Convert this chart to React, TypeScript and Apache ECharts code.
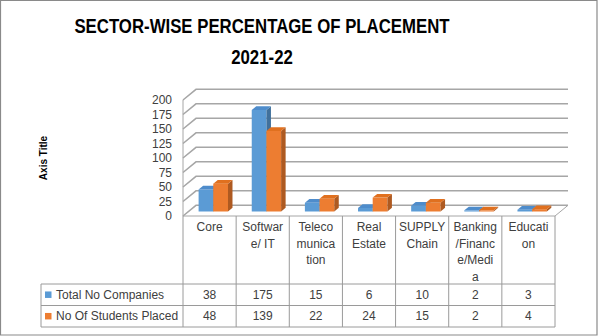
import React, { useEffect, useRef } from "react";
import * as echarts from "echarts";

// ---- data ----
const titleLines = ["SECTOR-WISE PERCENTAGE OF PLACEMENT", "2021-22"];
const categories = [
  "Core",
  "Software/ IT",
  "Telecomunication",
  "Real Estate",
  "SUPPLY Chain",
  "Banking/Finance/Media",
  "Education",
];
const categoryLabels = [
  "Core",
  "Softwar\ne/ IT",
  "Teleco\nmunica\ntion",
  "Real\nEstate",
  "SUPPLY\nChain",
  "Banking\n/Financ\ne/Medi\na",
  "Educati\non",
];
const seriesNames = ["Total No Companies", "No Of Students Placed"];
const totalCompanies = [38, 175, 15, 6, 10, 2, 3];
const studentsPlaced = [48, 139, 22, 24, 15, 2, 4];
const yTicks = [0, 25, 50, 75, 100, 125, 150, 175, 200];
const yAxisTitle = "Axis Title";

// ---- styles / layout ----
const FONT = '"Liberation Sans", Arial, sans-serif';
const TEXT = "#404040";
const GRID_LINE = "#a6a6a6";
const TABLE_LINE = "#9a9a9a";
const FRONT = ["#5B9BD5", "#ED7D31"];
const TOP = ["#4E8CCB", "#E0701F"];
const SIDE = ["#41719C", "#AE5A21"];
const GRID_LEFT = 183;
const GRID_TOP = 100;
const GRID_W = 372;
const GRID_H = 116;
const DEPTH_X = 13;
const DEPTH_Y = -10.7;
const BAR_SHIFT_X = 5.5;
const BAR_SHIFT_Y = -4.5;
const BAR_DX = 4.5;
const BAR_DY = -3.7;
const TABLE_LEFT = 41;
const HEADER_BOTTOM = 284;
const ROW_H = 21.5;
const TABLE_BOTTOM = HEADER_BOTTOM + ROW_H * 2;

export default function App() {
  const ref = useRef<HTMLDivElement>(null);

  useEffect(() => {
    if (!ref.current) return;
    const chart = echarts.init(ref.current, null, { renderer: "svg" });

    const wallSeries = {
      type: "custom",
      silent: true,
      z: 1,
      data: yTicks.map((v) => [0, v]),
      renderItem: (params: any, api: any) => {
        const cs = params.coordSys;
        const L = cs.x;
        const R = cs.x + cs.width;
        const v = api.value(1);
        const y = api.coord([0, v])[1];
        const children: any[] = [
          {
            type: "polyline",
            shape: {
              points: [
                [L, y],
                [L + DEPTH_X, y + DEPTH_Y],
                [R + DEPTH_X, y + DEPTH_Y],
              ],
            },
            style: { stroke: GRID_LINE, lineWidth: 1.5, fill: null },
          },
        ];
        if (v === 0) {
          children.push({
            type: "polyline",
            shape: {
              points: [
                [L, y],
                [R, y],
                [R + DEPTH_X, y + DEPTH_Y],
              ],
            },
            style: { stroke: GRID_LINE, lineWidth: 1, fill: null },
          });
          const yTop = api.coord([0, yTicks[yTicks.length - 1]])[1];
          children.push({
            type: "line",
            shape: { x1: L, y1: yTop, x2: L, y2: y },
            style: { stroke: GRID_LINE, lineWidth: 1 },
          });
        }
        return { type: "group", children };
      },
    };

    const makeBars = (s: number, values: number[]) => ({
      type: "custom",
      name: seriesNames[s],
      z: 2 + s,
      data: values.map((v, i) => [i, v]),
      renderItem: (params: any, api: any) => {
        const i = api.value(0);
        const v = api.value(1);
        const band = api.size([1, 0])[0];
        const top = api.coord([i, v]);
        const base = api.coord([i, 0]);
        const w = band * 0.277;
        const x = base[0] + (s === 0 ? -0.31 : -0.034) * band + BAR_SHIFT_X;
        const yb = base[1] + BAR_SHIFT_Y;
        const yt = top[1] + BAR_SHIFT_Y;
        return {
          type: "group",
          children: [
            {
              type: "rect",
              shape: { x, y: yt, width: w, height: Math.max(yb - yt, 0.5) },
              style: { fill: FRONT[s] },
            },
            {
              type: "polygon",
              shape: {
                points: [
                  [x + w, yt],
                  [x + w + BAR_DX, yt + BAR_DY],
                  [x + w + BAR_DX, yb + BAR_DY],
                  [x + w, yb],
                ],
              },
              style: { fill: SIDE[s] },
            },
            {
              type: "polygon",
              shape: {
                points: [
                  [x, yt],
                  [x + w, yt],
                  [x + w + BAR_DX, yt + BAR_DY],
                  [x + BAR_DX, yt + BAR_DY],
                ],
              },
              style: { fill: TOP[s] },
            },
          ],
        };
      },
    });

    const tableSeries = {
      type: "custom",
      silent: true,
      z: 5,
      data: categories.map((_, i) => [i, 0, totalCompanies[i], studentsPlaced[i]]),
      renderItem: (params: any, api: any) => {
        const cs = params.coordSys;
        const i = api.value(0);
        const band = api.size([1, 0])[0];
        const cx = api.coord([i, 0])[0];
        const yTop = cs.y + cs.height;
        const children: any[] = [
          {
            type: "line",
            shape: { x1: cx + band / 2, y1: yTop, x2: cx + band / 2, y2: TABLE_BOTTOM },
            style: { stroke: TABLE_LINE, lineWidth: 1 },
          },
        ];
        if (i === 0) {
          children.push({
            type: "line",
            shape: { x1: cx - band / 2, y1: yTop, x2: cx - band / 2, y2: TABLE_BOTTOM },
            style: { stroke: TABLE_LINE, lineWidth: 1 },
          });
        }
        [api.value(2), api.value(3)].forEach((val: number, r: number) => {
          children.push({
            type: "text",
            x: cx,
            y: HEADER_BOTTOM + ROW_H * (r + 0.5),
            style: {
              text: String(val),
              fill: TEXT,
              textFill: TEXT,
              font: `12px ${FONT}`,
              align: "center",
              textAlign: "center",
              verticalAlign: "middle",
              textVerticalAlign: "middle",
            },
          });
        });
        return { type: "group", children };
      },
    };

    const graphics: any[] = [
      {
        type: "rect",
        shape: { x: 0.5, y: 0.5, width: 596.5, height: 334.5 },
        style: { fill: null, stroke: "#8a8a8a", lineWidth: 1.2 },
        silent: true,
      },
      ...titleLines.map((t, k) => ({
        type: "text",
        x: 262,
        y: 26 + k * 31,
        scaleX: 0.84,
        style: {
          text: t,
          font: `bold 20px ${FONT}`,
          fill: "#000",
          align: "center",
          textAlign: "center",
          verticalAlign: "middle",
          textVerticalAlign: "middle",
        },
      })),
      ...[0, 1, 2].map((r) => ({
        type: "line",
        shape: {
          x1: TABLE_LEFT,
          y1: HEADER_BOTTOM + r * ROW_H,
          x2: GRID_LEFT + GRID_W,
          y2: HEADER_BOTTOM + r * ROW_H,
        },
        style: { stroke: TABLE_LINE, lineWidth: 1 },
        silent: true,
      })),
      {
        type: "line",
        shape: { x1: TABLE_LEFT, y1: HEADER_BOTTOM, x2: TABLE_LEFT, y2: TABLE_BOTTOM },
        style: { stroke: TABLE_LINE, lineWidth: 1 },
        silent: true,
      },
      ...seriesNames.flatMap((n, s) => [
        {
          type: "rect",
          shape: { x: 45, y: HEADER_BOTTOM + ROW_H * (s + 0.5) - 3.3, width: 6.5, height: 6.5 },
          style: { fill: FRONT[s] },
          silent: true,
        },
        {
          type: "text",
          x: 56,
          y: HEADER_BOTTOM + ROW_H * (s + 0.5),
          style: {
            text: n,
            font: `12px ${FONT}`,
            fill: TEXT,
            align: "left",
            textAlign: "left",
            verticalAlign: "middle",
            textVerticalAlign: "middle",
          },
        },
      ]),
    ];

    chart.setOption({
      animation: false,
      backgroundColor: "#fff",
      grid: { left: GRID_LEFT, top: GRID_TOP, width: GRID_W, height: GRID_H, containLabel: false },
      xAxis: {
        type: "category",
        data: categoryLabels,
        axisLine: { show: false },
        axisTick: { show: false },
        splitLine: { show: false },
        axisLabel: {
          interval: 0,
          margin: 3,
          fontSize: 12,
          lineHeight: 16.5,
          color: TEXT,
          fontFamily: FONT,
          align: "center",
        },
      },
      yAxis: {
        type: "value",
        min: 0,
        max: 200,
        interval: 25,
        axisLine: { show: false },
        axisTick: { show: false },
        splitLine: { show: false },
        axisLabel: { margin: 11, fontSize: 12, color: TEXT, fontFamily: FONT },
        name: yAxisTitle,
        nameLocation: "middle",
        nameRotate: 90,
        nameGap: 135,
        nameTextStyle: { fontSize: 10, fontWeight: "bold", color: "#000", fontFamily: FONT },
      },
      series: [wallSeries, makeBars(0, totalCompanies), makeBars(1, studentsPlaced), tableSeries],
      graphic: graphics,
    });

    return () => chart.dispose();
  }, []);

  return (
    <div
      ref={ref}
      style={{ position: "fixed", left: 0, top: 0, width: 598, height: 336 }}
    />
  );
}
